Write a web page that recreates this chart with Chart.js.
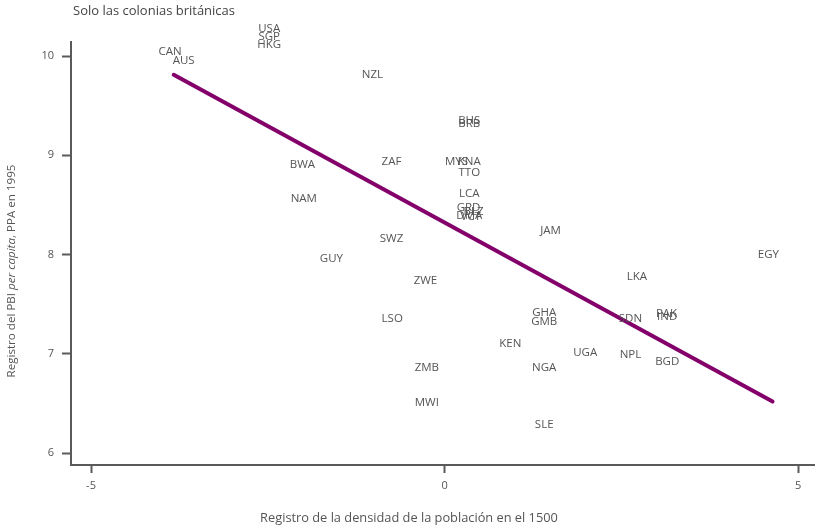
<!DOCTYPE html>
<html>
<head>
<meta charset="utf-8">
<script src="https://cdn.jsdelivr.net/npm/chart.js@4.4.1/dist/chart.umd.min.js"></script>
<style>
html,body{margin:0;padding:0;background:#fff;}
#wrap{width:815px;height:529px;position:relative;}
</style>
</head>
<body>
<div id="wrap"><canvas id="c" width="815" height="529"></canvas></div>
<script>
const countries = ["CAN","AUS","USA","SGP","HKG","NZL","BHS","BRB","BWA","ZAF","MYS","KNA","TTO","LCA","GRD","BLZ","DMA","VCT","NAM","SWZ","GUY","ZWE","JAM","EGY","LKA","LSO","GHA","GMB","SDN","PAK","IND","KEN","UGA","NPL","BGD","ZMB","NGA","MWI","SLE"];
const popDensity = [-3.88,-3.69,-2.48,-2.48,-2.48,-1.02,0.35,0.35,-2.01,-0.75,0.17,0.35,0.35,0.35,0.34,0.41,0.35,0.37,-1.99,-0.75,-1.60,-0.27,1.50,4.58,2.72,-0.74,1.41,1.41,2.63,3.14,3.15,0.93,1.99,2.63,3.15,-0.25,1.41,-0.25,1.41];
const logGdp = [10.04,9.95,10.27,10.19,10.11,9.81,9.35,9.32,8.91,8.94,8.94,8.94,8.82,8.61,8.47,8.43,8.39,8.38,8.56,8.16,7.96,7.74,8.24,8.00,7.78,7.35,7.41,7.32,7.35,7.40,7.37,7.10,7.01,6.99,6.92,6.86,6.86,6.51,6.29];
const fitX = [-3.83, 4.64];
const fitY = [9.81, 6.52];
const xTicks = [-5, 0, 5];
const yTicks = [6, 7, 8, 9, 10];
const titleText = "Solo las colonias británicas";
const xTitle = "Registro de la densidad de la población en el 1500";
const yTitleParts = [["Registro del PBI ", "normal"], ["per capita", "italic"], [", PPA en 1995", "normal"]];

const FONT = "'Open Sans', 'Noto Sans', sans-serif";
const TXT = '#555';
const AX = '#5a5a5a';

const labelPlugin = {
  id: 'labels',
  afterDatasetsDraw(chart) {
    const ctx = chart.ctx;
    const meta = chart.getDatasetMeta(0);
    ctx.save();
    ctx.font = "400 11.5px " + FONT;
    ctx.fillStyle = TXT;
    ctx.textAlign = 'center';
    ctx.textBaseline = 'middle';
    meta.data.forEach((pt, i) => {
      ctx.fillText(countries[i], pt.x, pt.y);
    });
    ctx.restore();
  },
  afterDraw(chart) {
    const ctx = chart.ctx;
    const ca = chart.chartArea;
    ctx.save();
    ctx.fillStyle = '#444';
    ctx.font = "400 13px " + FONT;
    ctx.textAlign = 'left';
    ctx.textBaseline = 'middle';
    ctx.fillText(titleText, ca.left + 2, 11);
    ctx.fillStyle = TXT;
    ctx.font = "400 12.8px " + FONT;
    ctx.textAlign = 'center';
    ctx.fillText(xTitle, 409, 518);
    // y title with mixed styles
    ctx.translate(12, 271);
    ctx.rotate(-Math.PI / 2);
    const sz = "400 11.6px ";
    let total = 0;
    const widths = yTitleParts.map(p => {
      ctx.font = (p[1] === 'italic' ? 'italic ' : '') + sz + FONT;
      const w = ctx.measureText(p[0]).width;
      total += w;
      return w;
    });
    let x = -total / 2;
    ctx.textAlign = 'left';
    yTitleParts.forEach((p, i) => {
      ctx.font = (p[1] === 'italic' ? 'italic ' : '') + sz + FONT;
      ctx.fillText(p[0], x, 0);
      x += widths[i];
    });
    ctx.restore();
  }
};

new Chart(document.getElementById('c'), {
  type: 'scatter',
  data: {
    datasets: [
      {
        label: 'países',
        data: countries.map((c, i) => ({x: popDensity[i], y: logGdp[i]})),
        pointRadius: 0,
        pointHoverRadius: 0,
        showLine: false
      },
      {
        label: 'ajuste',
        type: 'line',
        data: fitX.map((x, i) => ({x: x, y: fitY[i]})),
        borderColor: '#83006b',
        borderWidth: 4,
        pointRadius: 0,
        fill: false,
        borderCapStyle: 'round'
      }
    ]
  },
  options: {
    responsive: false,
    animation: false,
    devicePixelRatio: 1,
    layout: { padding: { top: 42, right: 0, left: 0, bottom: 0 } },
    plugins: { legend: { display: false }, tooltip: { enabled: false }, title: { display: false } },
    scales: {
      x: {
        type: 'linear',
        min: -5.283,
        max: 5.24,
        afterBuildTicks(scale) { scale.ticks = xTicks.map(v => ({value: v})); },
        afterFit(scale) { scale.height = 64; },
        grid: { drawOnChartArea: false, drawTicks: true, tickLength: 8, tickWidth: 2, tickColor: AX },
        border: { display: true, color: AX, width: 2 },
        ticks: { color: TXT, font: { family: FONT, size: 11, weight: '400' }, padding: 6, maxRotation: 0 }
      },
      y: {
        type: 'linear',
        min: 5.881,
        max: 10.141,
        afterBuildTicks(scale) { scale.ticks = yTicks.map(v => ({value: v})); },
        afterFit(scale) { scale.width = 71; },
        grid: { drawOnChartArea: false, drawTicks: true, tickLength: 9, tickWidth: 2, tickColor: AX },
        border: { display: true, color: AX, width: 2 },
        ticks: { color: TXT, font: { family: FONT, size: 11, weight: '400' }, padding: 8 }
      }
    }
  },
  plugins: [labelPlugin]
});
</script>
</body>
</html>
